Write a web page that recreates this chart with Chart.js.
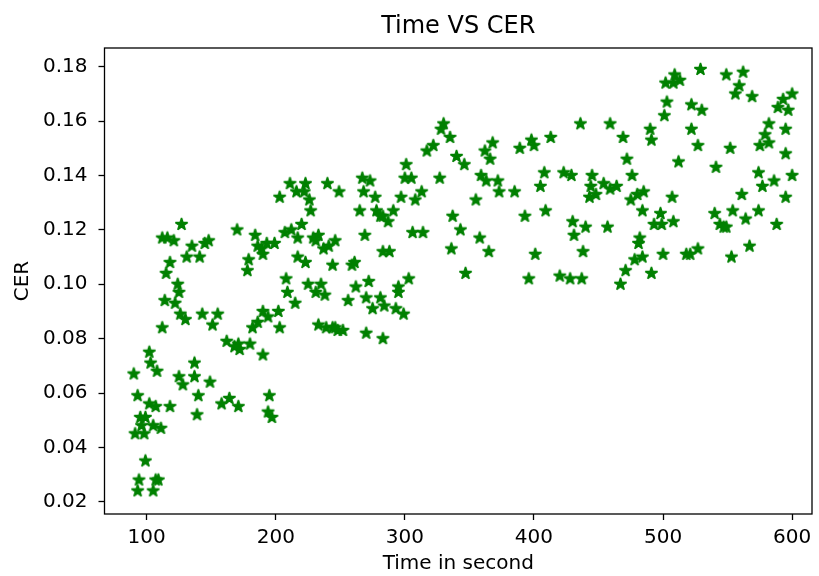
<!DOCTYPE html>
<html>
<head>
<meta charset="utf-8">
<script src="https://cdn.jsdelivr.net/npm/chart.js@4.4.1/dist/chart.umd.min.js"></script>
<style>
  body { margin: 0; background: #fff; }
  canvas { display: block; }
</style>
</head>
<body>
<canvas id="cerChart" width="819" height="576"></canvas>
<script>
const TITLE = 'Time VS CER';
const X_LABEL = 'Time in second';
const Y_LABEL = 'CER';

const TIME_SEC = [
  203, 211, 216, 223, 222, 226, 227, 240, 127, 112, 116, 121, 135, 145, 148, 131, 141, 118, 115, 124,
  170, 184, 186, 193, 190, 199, 207, 212, 220, 179, 178, 217, 229, 233, 237, 217, 223, 208, 225, 235,
  231, 189,
  330, 328, 335, 317, 322, 301, 300, 305, 340, 346, 362, 368, 366, 389, 398, 400, 413, 327, 359, 363,
  372, 373, 385, 408, 423, 405, 409, 393, 355, 249, 267, 273, 268, 277, 297, 308, 313, 265, 278, 283,
  291, 287, 269, 306, 314, 337, 343, 358, 336, 365, 401, 347, 396, 420, 283, 288, 246, 241, 244, 259,
  261, 262, 272, 303, 295, 281,
  502, 509, 513, 508, 529, 549, 562, 559, 556, 569, 503, 501, 522, 530, 522, 527, 436, 459, 469, 490,
  491, 472, 512, 541, 552, 600, 593, 589, 597, 582, 595, 579, 575, 582, 595, 574, 586, 600, 577, 595,
  561, 554, 564, 574, 540, 544, 549, 588, 567, 553, 429, 445, 444, 443, 448, 454, 459, 464, 476, 475,
  480, 485, 484, 507, 498, 493, 499, 508, 430, 440, 431, 457, 438, 482, 481, 484, 478, 500, 518, 521,
  527, 471, 467, 491, 428, 437, 547,
  114, 125, 122, 126, 130, 112, 143, 155, 151, 162, 168, 172, 171, 180, 190, 182, 186, 190, 194, 202,
  203, 209, 215, 231, 238, 233, 239, 244, 248, 252, 246, 256, 270, 275, 281, 284, 293, 295, 299, 270,
  283, 102, 103, 108, 90, 125, 128, 137, 137, 149, 140, 139, 93, 102, 107, 118, 95, 99, 96, 105,
  111, 91, 98, 158, 164, 171, 195, 194, 197, 99, 94, 93, 107, 109, 105
];

const CER = [
  0.132, 0.137, 0.134, 0.137, 0.134, 0.131, 0.127, 0.137, 0.122, 0.117, 0.117, 0.116, 0.114, 0.115, 0.116, 0.110, 0.110, 0.108, 0.104, 0.100,
  0.120, 0.118, 0.114, 0.115, 0.111, 0.115, 0.119, 0.120, 0.122, 0.109, 0.105, 0.117, 0.117, 0.118, 0.113, 0.110, 0.108, 0.102, 0.100, 0.100,
  0.116, 0.113,
  0.159, 0.157, 0.154, 0.149, 0.151, 0.144, 0.139, 0.139, 0.147, 0.144, 0.149, 0.152, 0.146, 0.150, 0.153, 0.151, 0.154, 0.139, 0.140, 0.138,
  0.138, 0.134, 0.134, 0.141, 0.141, 0.136, 0.127, 0.125, 0.131, 0.134, 0.139, 0.138, 0.134, 0.132, 0.132, 0.131, 0.134, 0.127, 0.127, 0.125,
  0.127, 0.123, 0.118, 0.119, 0.119, 0.125, 0.120, 0.117, 0.113, 0.112, 0.111, 0.104, 0.102, 0.103, 0.112, 0.112, 0.116, 0.114, 0.107, 0.107,
  0.108, 0.099, 0.101, 0.102, 0.099, 0.125,
  0.174, 0.177, 0.175, 0.174, 0.179, 0.177, 0.178, 0.173, 0.170, 0.169, 0.167, 0.162, 0.166, 0.164, 0.157, 0.151, 0.159, 0.159, 0.154, 0.157,
  0.153, 0.146, 0.145, 0.143, 0.150, 0.170, 0.168, 0.165, 0.164, 0.159, 0.157, 0.155, 0.151, 0.152, 0.148, 0.141, 0.138, 0.140, 0.136, 0.132,
  0.133, 0.127, 0.124, 0.127, 0.126, 0.122, 0.121, 0.122, 0.114, 0.110, 0.140, 0.140, 0.136, 0.132, 0.133, 0.137, 0.135, 0.136, 0.140, 0.131,
  0.133, 0.134, 0.127, 0.132, 0.126, 0.122, 0.122, 0.123, 0.123, 0.121, 0.118, 0.121, 0.112, 0.117, 0.115, 0.110, 0.109, 0.111, 0.111, 0.111,
  0.113, 0.105, 0.100, 0.104, 0.102, 0.102, 0.121,
  0.094, 0.097, 0.093, 0.089, 0.087, 0.084, 0.089, 0.089, 0.085, 0.079, 0.077, 0.076, 0.078, 0.078, 0.074, 0.084, 0.086, 0.090, 0.088, 0.090,
  0.084, 0.097, 0.093, 0.097, 0.096, 0.085, 0.084, 0.084, 0.083, 0.083, 0.084, 0.094, 0.095, 0.091, 0.095, 0.092, 0.091, 0.097, 0.089, 0.082,
  0.080, 0.075, 0.071, 0.068, 0.067, 0.066, 0.063, 0.071, 0.066, 0.064, 0.059, 0.052, 0.059, 0.056, 0.055, 0.055, 0.051, 0.051, 0.048, 0.048,
  0.047, 0.045, 0.045, 0.056, 0.058, 0.055, 0.059, 0.053, 0.051, 0.035, 0.028, 0.024, 0.028, 0.028, 0.024
];

const X_TICKS = [100, 200, 300, 400, 500, 600];
const Y_TICKS = [0.02, 0.04, 0.06, 0.08, 0.10, 0.12, 0.14, 0.16, 0.18];

const FONT = 'DejaVu Sans';
const GREEN = '#008000';

// matplotlib '*' marker, a filled five point star
function makeStar(outer, color) {
  const inner = outer * 0.381966;
  const size = Math.ceil(outer * 2) + 6;
  const c = document.createElement('canvas');
  c.width = size;
  c.height = size;
  const ctx = c.getContext('2d');
  ctx.translate(size / 2, size / 2);
  ctx.beginPath();
  for (let i = 0; i < 10; i++) {
    const r = i % 2 ? inner : outer;
    const a = -Math.PI / 2 + i * Math.PI / 5;
    ctx.lineTo(r * Math.cos(a), r * Math.sin(a));
  }
  ctx.closePath();
  ctx.fillStyle = color;
  ctx.fill();
  ctx.lineWidth = 1.5;
  ctx.lineJoin = 'bevel';
  ctx.strokeStyle = color;
  ctx.stroke();
  return c;
}

// all four spines, drawn over the markers
const frame = {
  id: 'frame',
  afterDatasetsDraw(chart) {
    const { ctx, chartArea: a } = chart;
    ctx.save();
    ctx.strokeStyle = '#000';
    ctx.lineWidth = 1.3;
    ctx.strokeRect(a.left, a.top, a.right - a.left, a.bottom - a.top);
    ctx.restore();
  }
};

const points = TIME_SEC.map((t, i) => ({ x: t, y: CER[i] }));

new Chart(document.getElementById('cerChart'), {
  type: 'scatter',
  data: {
    datasets: [{
      data: points,
      pointStyle: makeStar(6.4, GREEN),
      pointRadius: 6,
      backgroundColor: GREEN,
      borderColor: GREEN
    }]
  },
  options: {
    responsive: false,
    animation: false,
    events: [],
    layout: { padding: { left: 0, right: 2.3, top: 0, bottom: 0 } },
    plugins: {
      legend: { display: false },
      tooltip: { enabled: false },
      title: {
        display: true,
        text: TITLE,
        fullSize: false,
        color: '#000',
        font: { family: FONT, size: 24, weight: 'normal' },
        padding: { top: 12.6, bottom: 6.6 }
      }
    },
    scales: {
      x: {
        type: 'linear',
        min: 67.3,
        max: 615.4,
        afterFit: scale => { scale.height = 62; },
        afterBuildTicks: axis => { axis.ticks = X_TICKS.map(v => ({ value: v })); },
        border: { display: false },
        grid: { drawOnChartArea: false, drawTicks: true, tickLength: 6, tickColor: '#000', tickWidth: 1.3 },
        ticks: { color: '#000', font: { family: FONT, size: 20 }, padding: 6, maxRotation: 0 },
        title: {
          display: true,
          text: X_LABEL,
          color: '#000',
          font: { family: FONT, size: 20 },
          padding: { top: 0, bottom: 0 }
        }
      },
      y: {
        type: 'linear',
        min: 0.0155,
        max: 0.1869,
        afterFit: scale => { scale.width = 104.5; },
        afterBuildTicks: axis => { axis.ticks = Y_TICKS.map(v => ({ value: v })); },
        border: { display: false },
        grid: { drawOnChartArea: false, drawTicks: true, tickLength: 6, tickColor: '#000', tickWidth: 1.3 },
        ticks: {
          color: '#000',
          font: { family: FONT, size: 20 },
          padding: 11,
          callback: v => v.toFixed(2)
        },
        title: {
          display: true,
          text: Y_LABEL,
          color: '#000',
          font: { family: FONT, size: 20 },
          padding: { top: 10.5, bottom: 0 }
        }
      }
    }
  },
  plugins: [frame]
});
</script>
</body>
</html>
